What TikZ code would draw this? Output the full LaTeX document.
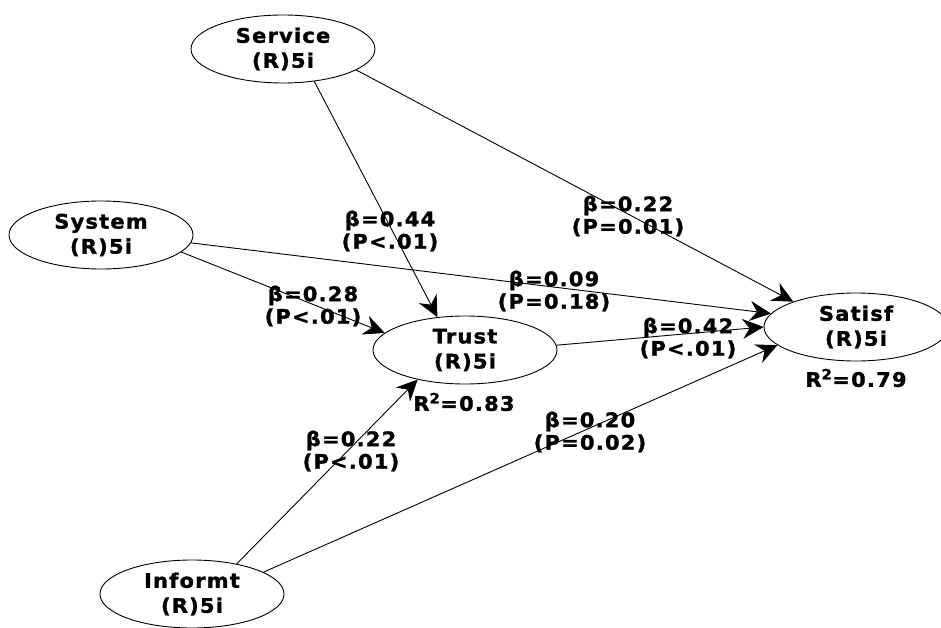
\documentclass[tikz,border=0pt]{standalone}
\usepackage{fontspec}
\setmainfont{DejaVu Sans}[LetterSpace=6, FakeStretch=1.05, BoldFeatures={FakeBold=1.5}]
\usetikzlibrary{arrows.meta,shapes.geometric}
\begin{document}
\begin{tikzpicture}[x=1pt,y=-1pt,
  lv/.style={ellipse, draw, line width=0.9pt, minimum width=184pt, minimum height=68pt,
    inner sep=0pt, align=center, font=\bfseries\fontsize{20}{25}\selectfont},
  lab/.style={align=center, inner sep=0pt, font=\bfseries\fontsize{20}{22.5}\selectfont},
  arr/.style={draw, line width=0.9pt, -{Stealth[length=21pt,width=20pt,inset=7pt]}}]
\useasboundingbox (0,0) rectangle (941,628);
\clip (0,0) rectangle (941,628);
\node[lv] (svc) at (283,49) {Service\\(R)5i};
\node[lv] (sys) at (101,235) {System\\(R)5i};
\node[lv] (tru) at (465,350) {Trust\\(R)5i};
\node[lv] (sat) at (856,327) {Satisf\\(R)5i};
\node[lv] (inf) at (192,594) {Informt\\(R)5i};
\draw[arr] (svc.-46) -- (tru.130);
\draw[arr] (svc.-16) -- (sat.158);
\draw[arr] (sys.-12) -- (tru.168);
\draw[arr] (sys.-5) -- (sat.171);
\draw[arr] (tru.3) -- (sat.180);
\draw[arr] (inf.34) -- (tru.-148);
\draw[arr] (inf.17) -- (sat.-167);
\node[lab] (l1) at (390,231) {β=0.44\\(P<.01)};
\node[lab] (l2) at (628,216) {β=0.22\\(P=0.01)};
\node[lab] (l3) at (554,291) {β=0.09\\(P=0.18)};
\node[lab] (l4) at (313,306) {β=0.28\\(P<.01)};
\node[lab] (l5) at (688,338) {β=0.42\\(P<.01)};
\node[lab] (l6) at (464,402) {R\textsuperscript{2}=0.83};
\node[lab] (l7) at (856,378) {R\textsuperscript{2}=0.79};
\node[lab] (l8) at (351,451) {β=0.22\\(P<.01)};
\node[lab] (l9) at (590,432) {β=0.20\\(P=0.02)};
\end{tikzpicture}
\end{document}
